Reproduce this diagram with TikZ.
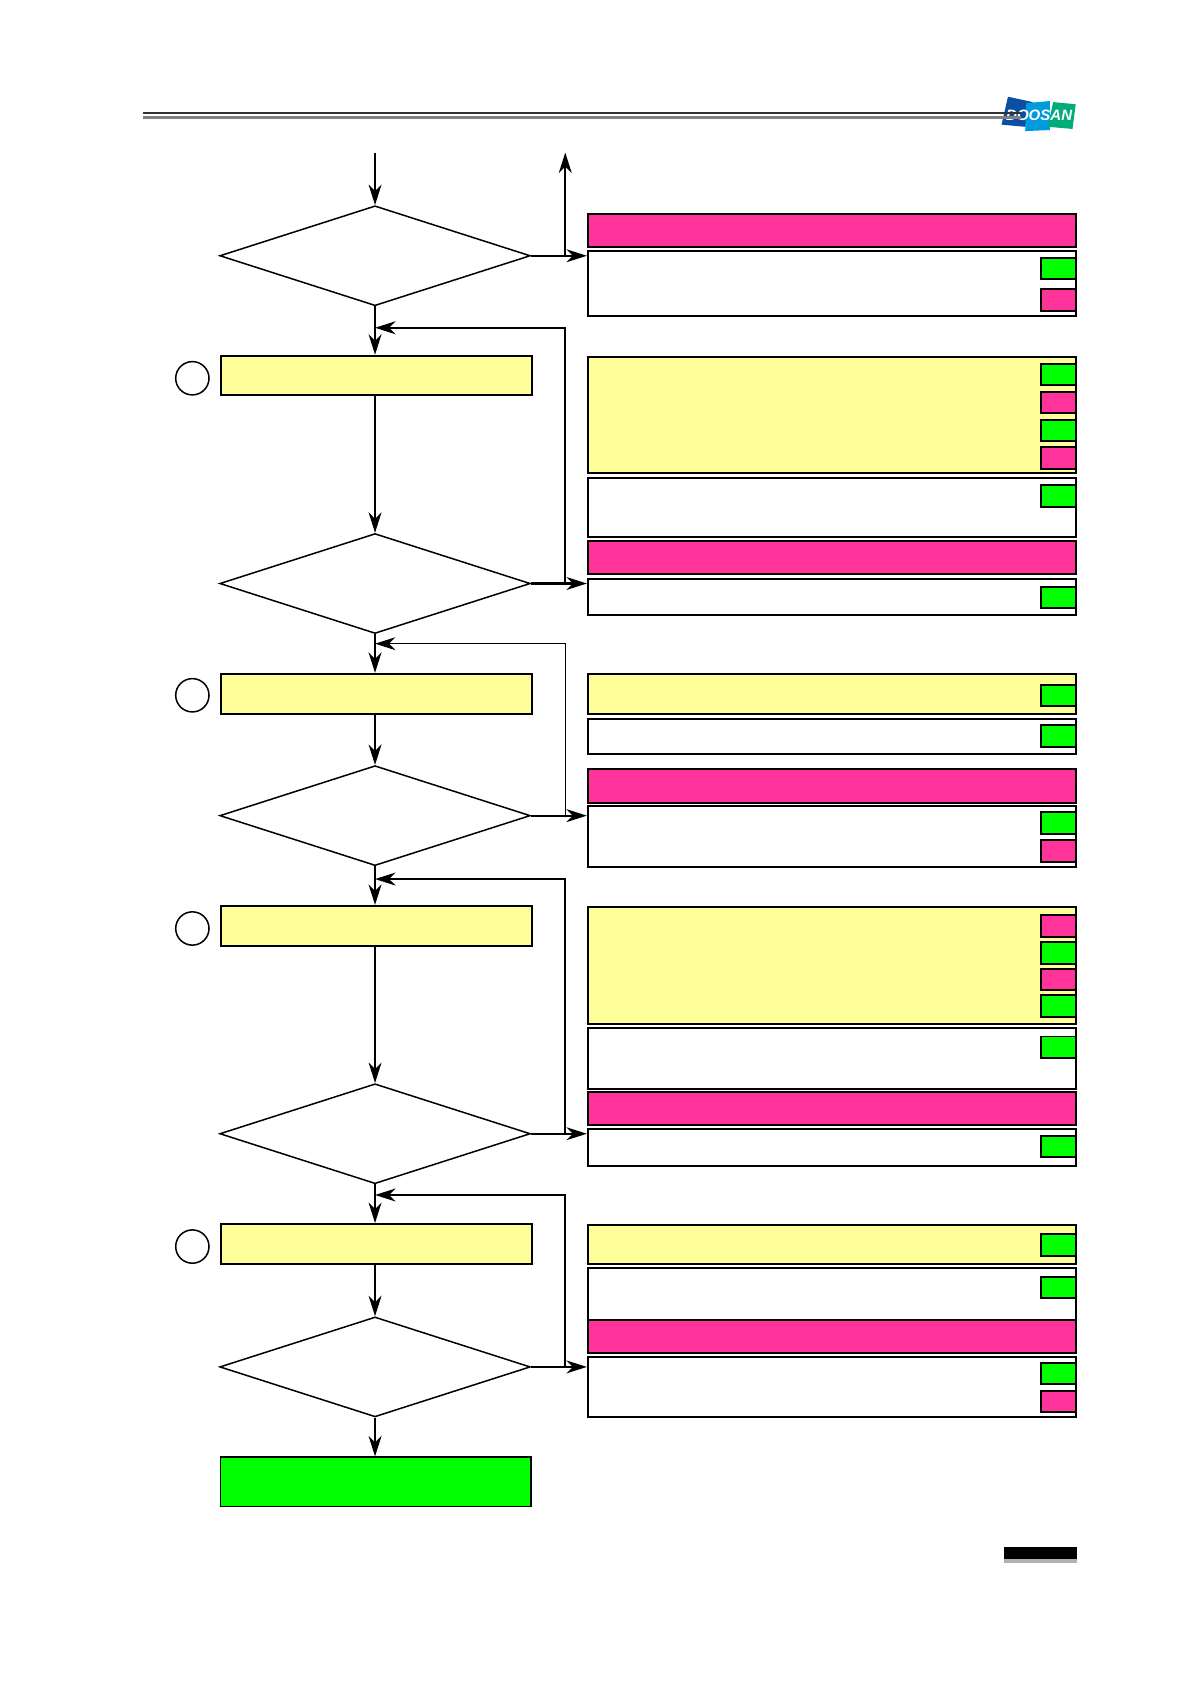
\documentclass[tikz,border=0pt]{standalone}
\usepackage{fontspec}
\usetikzlibrary{shapes.geometric,arrows.meta}

\newfontfamily\logofont{Liberation Sans}
\definecolor{hotpink}{HTML}{FF3399}
\definecolor{paleyellow}{HTML}{FFFF99}
\definecolor{brightgreen}{HTML}{00FF00}
\definecolor{logoblue}{HTML}{0B4EA2}
\definecolor{logocyan}{HTML}{009BDD}
\definecolor{logogreen}{HTML}{00AC78}

\tikzstyle{decision}=[diamond, draw, line width=0.7pt, inner sep=0pt, minimum width=144.5pt, minimum height=46.5pt]
\tikzstyle{process}=[rectangle, draw, line width=0.9pt, fill=paleyellow, inner sep=0pt, minimum width=144.5pt, minimum height=18.5pt]
\tikzstyle{finish}=[rectangle, draw, line width=0.7pt, fill=brightgreen, inner sep=0pt, minimum width=144.5pt, minimum height=23pt]
\tikzstyle{marker}=[circle, draw, line width=0.7pt, inner sep=0pt, minimum size=15.5pt]
\tikzstyle{panel}=[rectangle, draw, line width=0.9pt, inner sep=0pt, minimum width=227pt]
\tikzstyle{notebox}=[panel, fill=white]
\tikzstyle{warnbox}=[panel, fill=hotpink]
\tikzstyle{actbox}=[panel, fill=paleyellow]
\tikzstyle{tagbox}=[rectangle, draw, line width=0.9pt, inner sep=0pt, minimum width=16pt, minimum height=10pt]
\tikzstyle{oktag}=[tagbox, fill=brightgreen]
\tikzstyle{warntag}=[tagbox, fill=hotpink]
\tikzstyle{flow}=[line width=1pt, -{Stealth[length=9.5pt,width=6pt,inset=3pt]}]
\tikzstyle{thinflow}=[line width=0.5pt, -{Stealth[length=9.5pt,width=6pt,inset=3pt]}]

\begin{document}
\begin{tikzpicture}[x=0.5pt,y=-0.5pt]
            \useasboundingbox (0,0) rectangle (1109,1568);

            % logo and header rule
            \fill[logoblue] (938,90) -- (961,95) -- (954,118) -- (932,116) -- cycle;
            \fill[logocyan] (955,96) -- (977,94) -- (977,121) -- (954,122) -- cycle;
            \fill[logogreen] (980,95) -- (1001,97) -- (998,120) -- (975,118) -- cycle;
            \node[text=white, inner sep=0pt, font=\logofont\bfseries\itshape\fontsize{7}{7}\selectfont] at (967,107) (logo) {DOOSAN};
            \fill[black!80] (133,103.8) rectangle (950,106.2);
            \fill[black!50] (133,108.4) rectangle (950,110.6);

            % page number bar
            \fill[black!30] (934,1451) rectangle (1002,1454);
            \fill[black] (934,1440) rectangle (1002,1451);

            % left column
            \node[decision] at (349,238) (D1) {};
            \node[process] at (350.5,349.5) (Y1) {};
            \node[marker] at (179,352) (M1) {};
            \node[decision] at (349,543) (D2) {};
            \node[process] at (350.5,645.5) (Y2) {};
            \node[marker] at (179,647) (M2) {};
            \node[decision] at (349,759) (D3) {};
            \node[process] at (350.5,861.5) (Y3) {};
            \node[marker] at (179,864) (M3) {};
            \node[decision] at (349,1055) (D4) {};
            \node[process] at (350.5,1157.5) (Y4) {};
            \node[marker] at (179,1160) (M4) {};
            \node[decision] at (349,1272) (D5) {};
            \node[finish] at (349.5,1379) (G1) {};

            % right column, first block
            \node[warnbox, minimum height=15.5pt] at (774,214.5) (P1) {};
            \node[notebox, minimum height=30pt] at (774,264) (N1) {};
            \node[oktag] at (985,250) (T1) {};
            \node[warntag] at (985,279) (T2) {};

            % right column, second block
            \node[actbox, minimum height=54pt] at (774,386) (A1) {};
            \node[oktag] at (985,348.5) (T3) {};
            \node[warntag] at (985,374.5) (T4) {};
            \node[oktag] at (985,400.5) (T5) {};
            \node[warntag] at (985,426) (T6) {};
            \node[notebox, minimum height=27.5pt] at (774,472.5) (N2) {};
            \node[oktag] at (985,461.5) (T7) {};
            \node[warnbox, minimum height=15.5pt] at (774,518.5) (P2) {};
            \node[notebox, minimum height=16.5pt] at (774,555.5) (N3) {};
            \node[oktag] at (985,556) (T8) {};

            % right column, third block
            \node[actbox, minimum height=18.5pt] at (774,645.5) (A2) {};
            \node[oktag] at (985,647) (T9) {};
            \node[notebox, minimum height=16.5pt] at (774,685.5) (N4) {};
            \node[oktag] at (985,685) (T10) {};
            \node[warnbox, minimum height=15.5pt] at (774,731.5) (P3) {};
            \node[notebox, minimum height=28.5pt] at (774,778.5) (N5) {};
            \node[oktag] at (985,766) (T11) {};
            \node[warntag] at (985,792) (T12) {};

            % right column, fourth block
            \node[actbox, minimum height=54.5pt] at (774,898.5) (A3) {};
            \node[warntag] at (985,861.5) (T13) {};
            \node[oktag] at (985,887) (T14) {};
            \node[warntag] at (985,911.5) (T15) {};
            \node[oktag] at (985,936) (T16) {};
            \node[notebox, minimum height=28pt] at (774,985) (N6) {};
            \node[oktag] at (985,974.5) (T17) {};
            \node[warnbox, minimum height=15.5pt] at (774,1031.5) (P4) {};
            \node[notebox, minimum height=17pt] at (774,1068) (N7) {};
            \node[oktag] at (985,1067) (T18) {};

            % right column, fifth block
            \node[actbox, minimum height=18pt] at (774,1158) (A4) {};
            \node[oktag] at (985,1158.5) (T19) {};
            \node[notebox, minimum height=24pt] at (774,1204) (N8) {};
            \node[oktag] at (985,1198) (T20) {};
            \node[warnbox, minimum height=15.5pt] at (774,1243.5) (P5) {};
            \node[notebox, minimum height=28pt] at (774,1291) (N9) {};
            \node[oktag] at (985,1278) (T21) {};
            \node[warntag] at (985,1304) (T22) {};

            % junctions on the connectors
            \coordinate (start) at (349,142);
            \coordinate (exit) at (526,142);
            \coordinate (J1) at (526,238);
            \coordinate (J2) at (526,543);
            \coordinate (J3) at (526,759);
            \coordinate (J4) at (526,1055);
            \coordinate (J5) at (526,1272);
            \coordinate (R1) at (349,305);
            \coordinate (R2) at (349,599);
            \coordinate (R3) at (349,818);
            \coordinate (R4) at (349,1112);

            % connectors
            \draw[flow] (start) -- (D1.north);
            \draw[flow] (J1) -- (exit);
            \draw[flow] (D1.east) -- (D1.east -| N1.west);
            \draw[flow] (D1.south) -- (D1.south |- Y1.north);
            \draw[flow] (D1.south |- Y1.south) -- (D2.north);
            \draw[flow] (D2.east) -- (D2.east -| N3.west);
            \draw[flow] (D2.south) -- (D2.south |- Y2.north);
            \draw[flow] (D2.south |- Y2.south) -- (D3.north);
            \draw[flow] (D3.east) -- (D3.east -| N5.west);
            \draw[flow] (D3.south) -- (D3.south |- Y3.north);
            \draw[flow] (D3.south |- Y3.south) -- (D4.north);
            \draw[flow] (D4.east) -- (D4.east -| N7.west);
            \draw[flow] (D4.south) -- (D4.south |- Y4.north);
            \draw[flow] (D4.south |- Y4.south) -- (D5.north);
            \draw[flow] (D5.east) -- (D5.east -| N9.west);
            \draw[flow] (D5.south) -- (D5.south |- G1.north);
            \draw[flow] (J2) |- (R1);
            \draw[thinflow] (J3) |- (R2);
            \draw[flow] (J4) |- (R3);
            \draw[flow] (J5) |- (R4);
        \end{tikzpicture}
\end{document}
